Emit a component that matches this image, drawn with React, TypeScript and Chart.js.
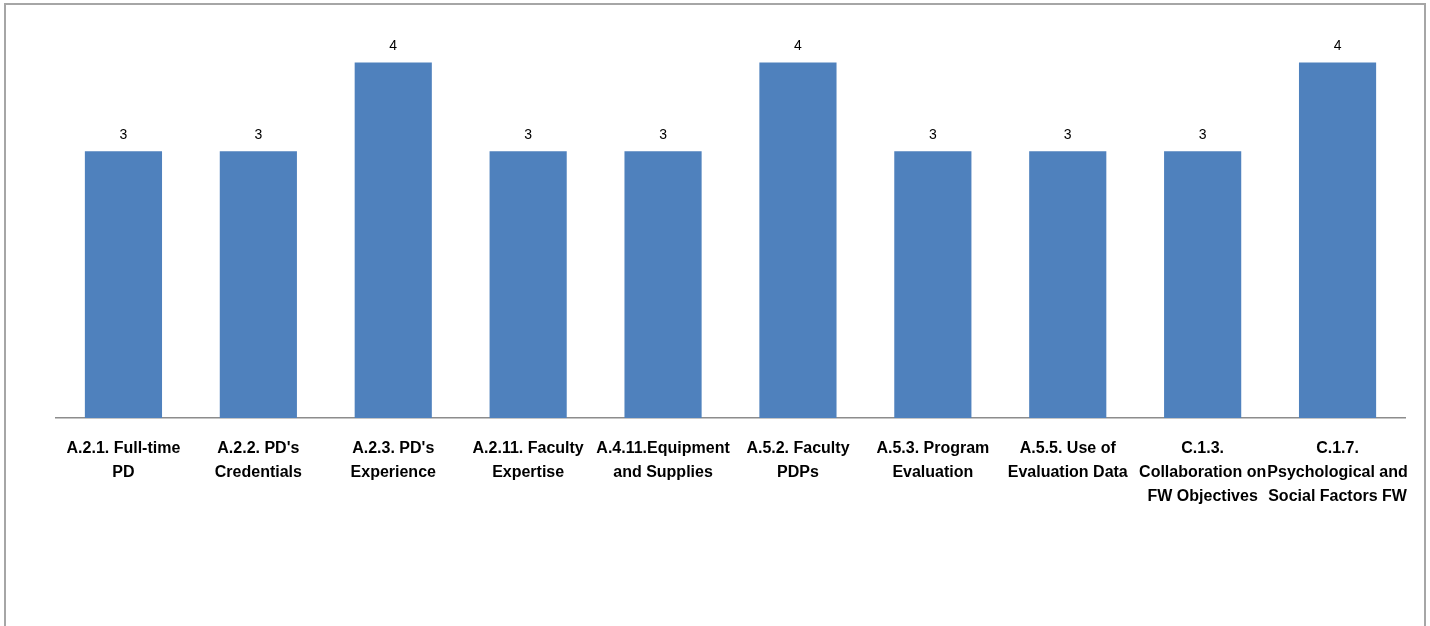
import React, { useEffect, useRef } from "react";
import { Chart, registerables } from "chart.js";

Chart.register(...registerables);

const categories: string[][] = [
  ["A.2.1. Full-time", "PD"],
  ["A.2.2. PD's", "Credentials"],
  ["A.2.3. PD's", "Experience"],
  ["A.2.11. Faculty", "Expertise"],
  ["A.4.11.Equipment", "and Supplies"],
  ["A.5.2. Faculty", "PDPs"],
  ["A.5.3. Program", "Evaluation"],
  ["A.5.5. Use of", "Evaluation Data"],
  ["C.1.3.", "Collaboration on", "FW Objectives"],
  ["C.1.7.", "Psychological and", "Social Factors FW"],
];

const values: number[] = [3, 3, 4, 3, 3, 4, 3, 3, 3, 4];

const labelFont = '"Liberation Sans", Arial, sans-serif';

const dataLabelPlugin = {
  id: "dataLabels",
  afterDatasetsDraw(chart: any) {
    const ctx = chart.ctx;
    const meta = chart.getDatasetMeta(0);
    ctx.save();
    ctx.font = '14px "Liberation Sans", Arial, sans-serif';
    ctx.fillStyle = "#000000";
    ctx.textAlign = "center";
    ctx.textBaseline = "bottom";
    meta.data.forEach((el: any, i: number) => {
      ctx.fillText(String(values[i]), el.x, el.y - 9);
    });
    ctx.restore();
  },
};

export default function App() {
  const canvasRef = useRef<HTMLCanvasElement | null>(null);

  useEffect(() => {
    if (!canvasRef.current) return;
    const chart = new Chart(canvasRef.current, {
      type: "bar",
      data: {
        labels: categories,
        datasets: [
          {
            data: values,
            backgroundColor: "#4F81BD",
            borderWidth: 0,
            barPercentage: 0.572,
            categoryPercentage: 1,
          },
        ],
      },
      options: {
        animation: false,
        responsive: false,
        maintainAspectRatio: false,
        layout: { padding: { left: 56, right: 25, top: 18, bottom: 0 } },
        plugins: {
          legend: { display: false },
          tooltip: { enabled: false },
          title: { display: false },
        },
        scales: {
          y: { display: false, min: 0, max: 4.5 },
          x: {
            grid: { display: false, drawTicks: false },
            border: { display: true, color: "#8c8c8c", width: 1.5 },
            ticks: {
              autoSkip: false,
              maxRotation: 0,
              minRotation: 0,
              padding: 19,
              color: "#000000",
              font: { family: labelFont, size: 16, weight: "bold", lineHeight: 1.5 },
            },
            afterFit: (scale: any) => {
              scale.height = 208;
              scale.paddingLeft = 0;
              scale.paddingRight = 0;
            },
          },
        },
      },
      plugins: [dataLabelPlugin],
    });
    return () => chart.destroy();
  }, []);

  return (
    <div style={{ position: "fixed", left: 0, top: 0, width: 1430, height: 626, background: "#ffffff", overflow: "hidden" }}>
      <div
        style={{
          position: "absolute",
          left: 4,
          top: 3,
          width: 1422,
          height: 700,
          border: "2px solid #a6a6a6",
          boxSizing: "border-box",
        }}
      />
      <canvas ref={canvasRef} width={1430} height={626} style={{ position: "absolute", left: 0, top: 0, width: 1430, height: 626 }} />
    </div>
  );
}
